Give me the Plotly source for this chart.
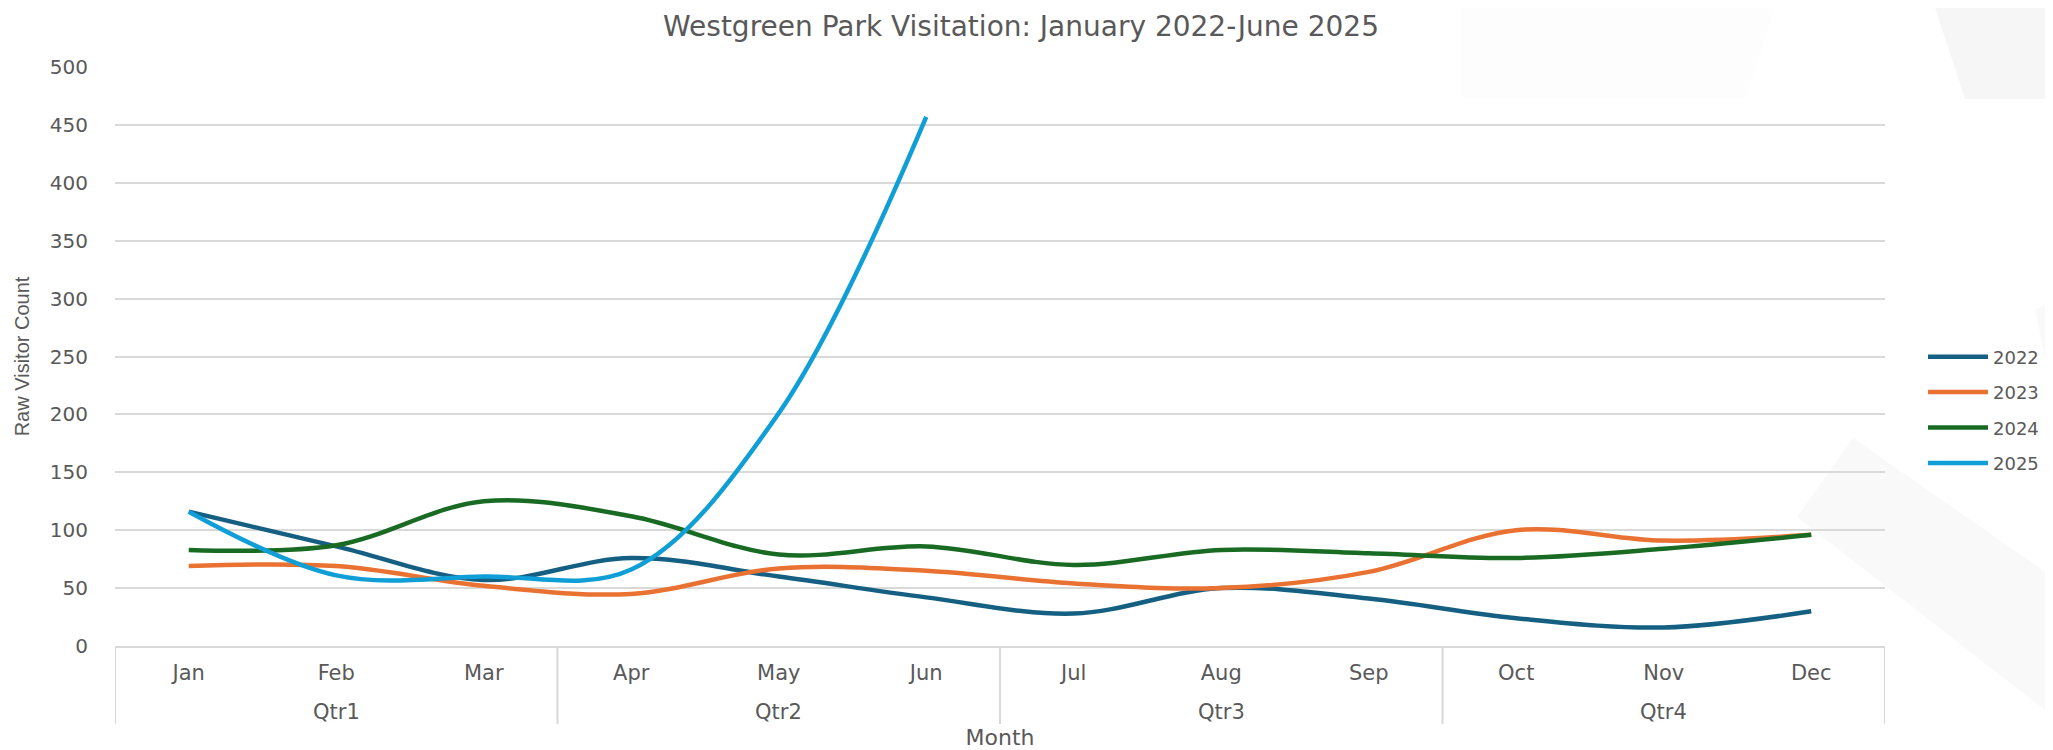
import plotly.graph_objects as go

months = ["Jan", "Feb", "Mar", "Apr", "May", "Jun", "Jul", "Aug", "Sep", "Oct", "Nov", "Dec"]
quarters = ["Qtr1"] * 3 + ["Qtr2"] * 3 + ["Qtr3"] * 3 + ["Qtr4"] * 3

v2022 = [116, 86, 57, 76, 60, 42, 28, 50, 41, 24, 16, 30]
v2023 = [69, 69, 52, 45, 67, 65, 54, 50, 64, 100, 91, 96]
v2024 = [83, 87, 125, 112, 79, 86, 70, 83, 80, 76, 84, 96]
v2025 = [116, 61, 60, 66, 201, 457]

series = [("2022", v2022, "#156082"), ("2023", v2023, "#E97132"),
          ("2024", v2024, "#196B24"), ("2025", v2025, "#0F9ED5")]

# the page puts the figure 8px in from the top-left corner (default body margin)
OFF = 8
W, H = 2053, 750
L, R = 115 - OFF, 2053 - (1885 - OFF)
T, B = 67 - OFF, 750 - (646 - OFF)
pw, ph = W - L - R, H - T - B

def px(x):  # page x -> paper
    return (x - OFF - L) / pw

def py(y):  # page y -> paper
    return (H - B - (y - OFF)) / ph

GRID = "#d9d9d9"
TXT = "#595959"
font = "DejaVu Sans, Verdana, sans-serif"

fig = go.Figure()
for name, vals, col in series:
    n = len(vals)
    fig.add_trace(go.Scatter(
        x=months[:n], y=vals, name=name, mode="lines",
        line=dict(color=col, width=4.5, shape="spline", smoothing=1),
        legendgroup=name,
        customdata=quarters[:n],
        hovertemplate="%{customdata} %{x}: %{y}<extra>" + name + "</extra>",
    ))

# quarter group row: labels centred on their months, dividers at group edges
groups = []
for i, q in enumerate(quarters):
    if not groups or groups[-1][0] != q:
        groups.append([q, i, i])
    else:
        groups[-1][2] = i

annotations = []
shapes = []
div_bottom = py(724)
for q, i0, i1 in groups:
    annotations.append(dict(x=(i0 + i1) / 2, xref="x", y=py(712), yref="paper",
                            text=q, showarrow=False, xanchor="center", yanchor="middle",
                            font=dict(size=21, color=TXT, family=font)))
    shapes.append(dict(type="line", xref="x", yref="paper", x0=i0 - 0.5, x1=i0 - 0.5,
                       y0=0, y1=div_bottom, line=dict(color=GRID, width=2)))
shapes.append(dict(type="line", xref="x", yref="paper", x0=groups[-1][2] + 0.5,
                   x1=groups[-1][2] + 0.5, y0=0, y1=div_bottom, line=dict(color=GRID, width=2)))

# faint decorative background shapes
shapes += [
    dict(type="path", xref="paper", yref="paper", layer="below",
         path=f"M{px(1462)},{py(8)} L{px(1775)},{py(8)} L{px(1746)},{py(99)} L{px(1462)},{py(99)} Z",
         fillcolor="rgba(0,0,0,0.008)", line=dict(width=0)),
    dict(type="path", xref="paper", yref="paper", layer="below",
         path=f"M{px(1935)},{py(8)} L{px(2060)},{py(8)} L{px(2060)},{py(99)} L{px(1965)},{py(99)} Z",
         fillcolor="rgba(0,0,0,0.035)", line=dict(width=0)),
    dict(type="path", xref="paper", yref="paper", layer="below",
         path=f"M{px(1853)},{py(438)} L{px(2060)},{py(582)} L{px(2060)},{py(722)} L{px(1797)},{py(517)} Z",
         fillcolor="rgba(0,0,0,0.025)", line=dict(width=0)),
    dict(type="path", xref="paper", yref="paper", layer="below",
         path=f"M{px(2035)},{py(310)} L{px(2060)},{py(296)} L{px(2060)},{py(430)} Z",
         fillcolor="rgba(0,0,0,0.025)", line=dict(width=0)),
]

fig.update_layout(
    width=W, height=H,
    margin=dict(l=L, r=R, t=T, b=B, autoexpand=False),
    paper_bgcolor="white", plot_bgcolor="rgba(0,0,0,0)",
    font=dict(family=font, color=TXT, size=20),
    title=dict(text="Westgreen Park Visitation: January 2022-June 2025",
               x=(1021 - OFF) / W, xanchor="center", y=1 - 18 / H, yanchor="middle",
               yref="container", font=dict(size=28, color=TXT)),
    showlegend=True,
    legend=dict(x=px(1923), xanchor="left", y=py(410), yanchor="middle",
                font=dict(size=18, color=TXT), traceorder="grouped",
                tracegroupgap=9, itemwidth=60, bgcolor="rgba(0,0,0,0)"),
    shapes=shapes,
    annotations=annotations,
)
fig.update_xaxes(
    type="category", categoryorder="array", categoryarray=months, range=[-0.5, 11.5],
    showgrid=False, showline=True, linecolor=GRID, linewidth=2,
    tickfont=dict(size=21, color=TXT), ticks="", ticklabelstandoff=7,
    title=dict(text="Month", font=dict(size=22, color=TXT), standoff=45),
    automargin=False,
)
fig.update_yaxes(
    range=[0, 500], dtick=50, showgrid=True, gridcolor=GRID, gridwidth=2,
    zeroline=False, showline=False, ticks="", ticklabelstandoff=26,
    tickfont=dict(size=20, color=TXT),
    title=dict(text="Raw Visitor Count",
               font=dict(size=20, color=TXT, family="Liberation Sans, Arial, sans-serif"),
               standoff=14),
    automargin=False,
)

fig.write_html("out.html")
